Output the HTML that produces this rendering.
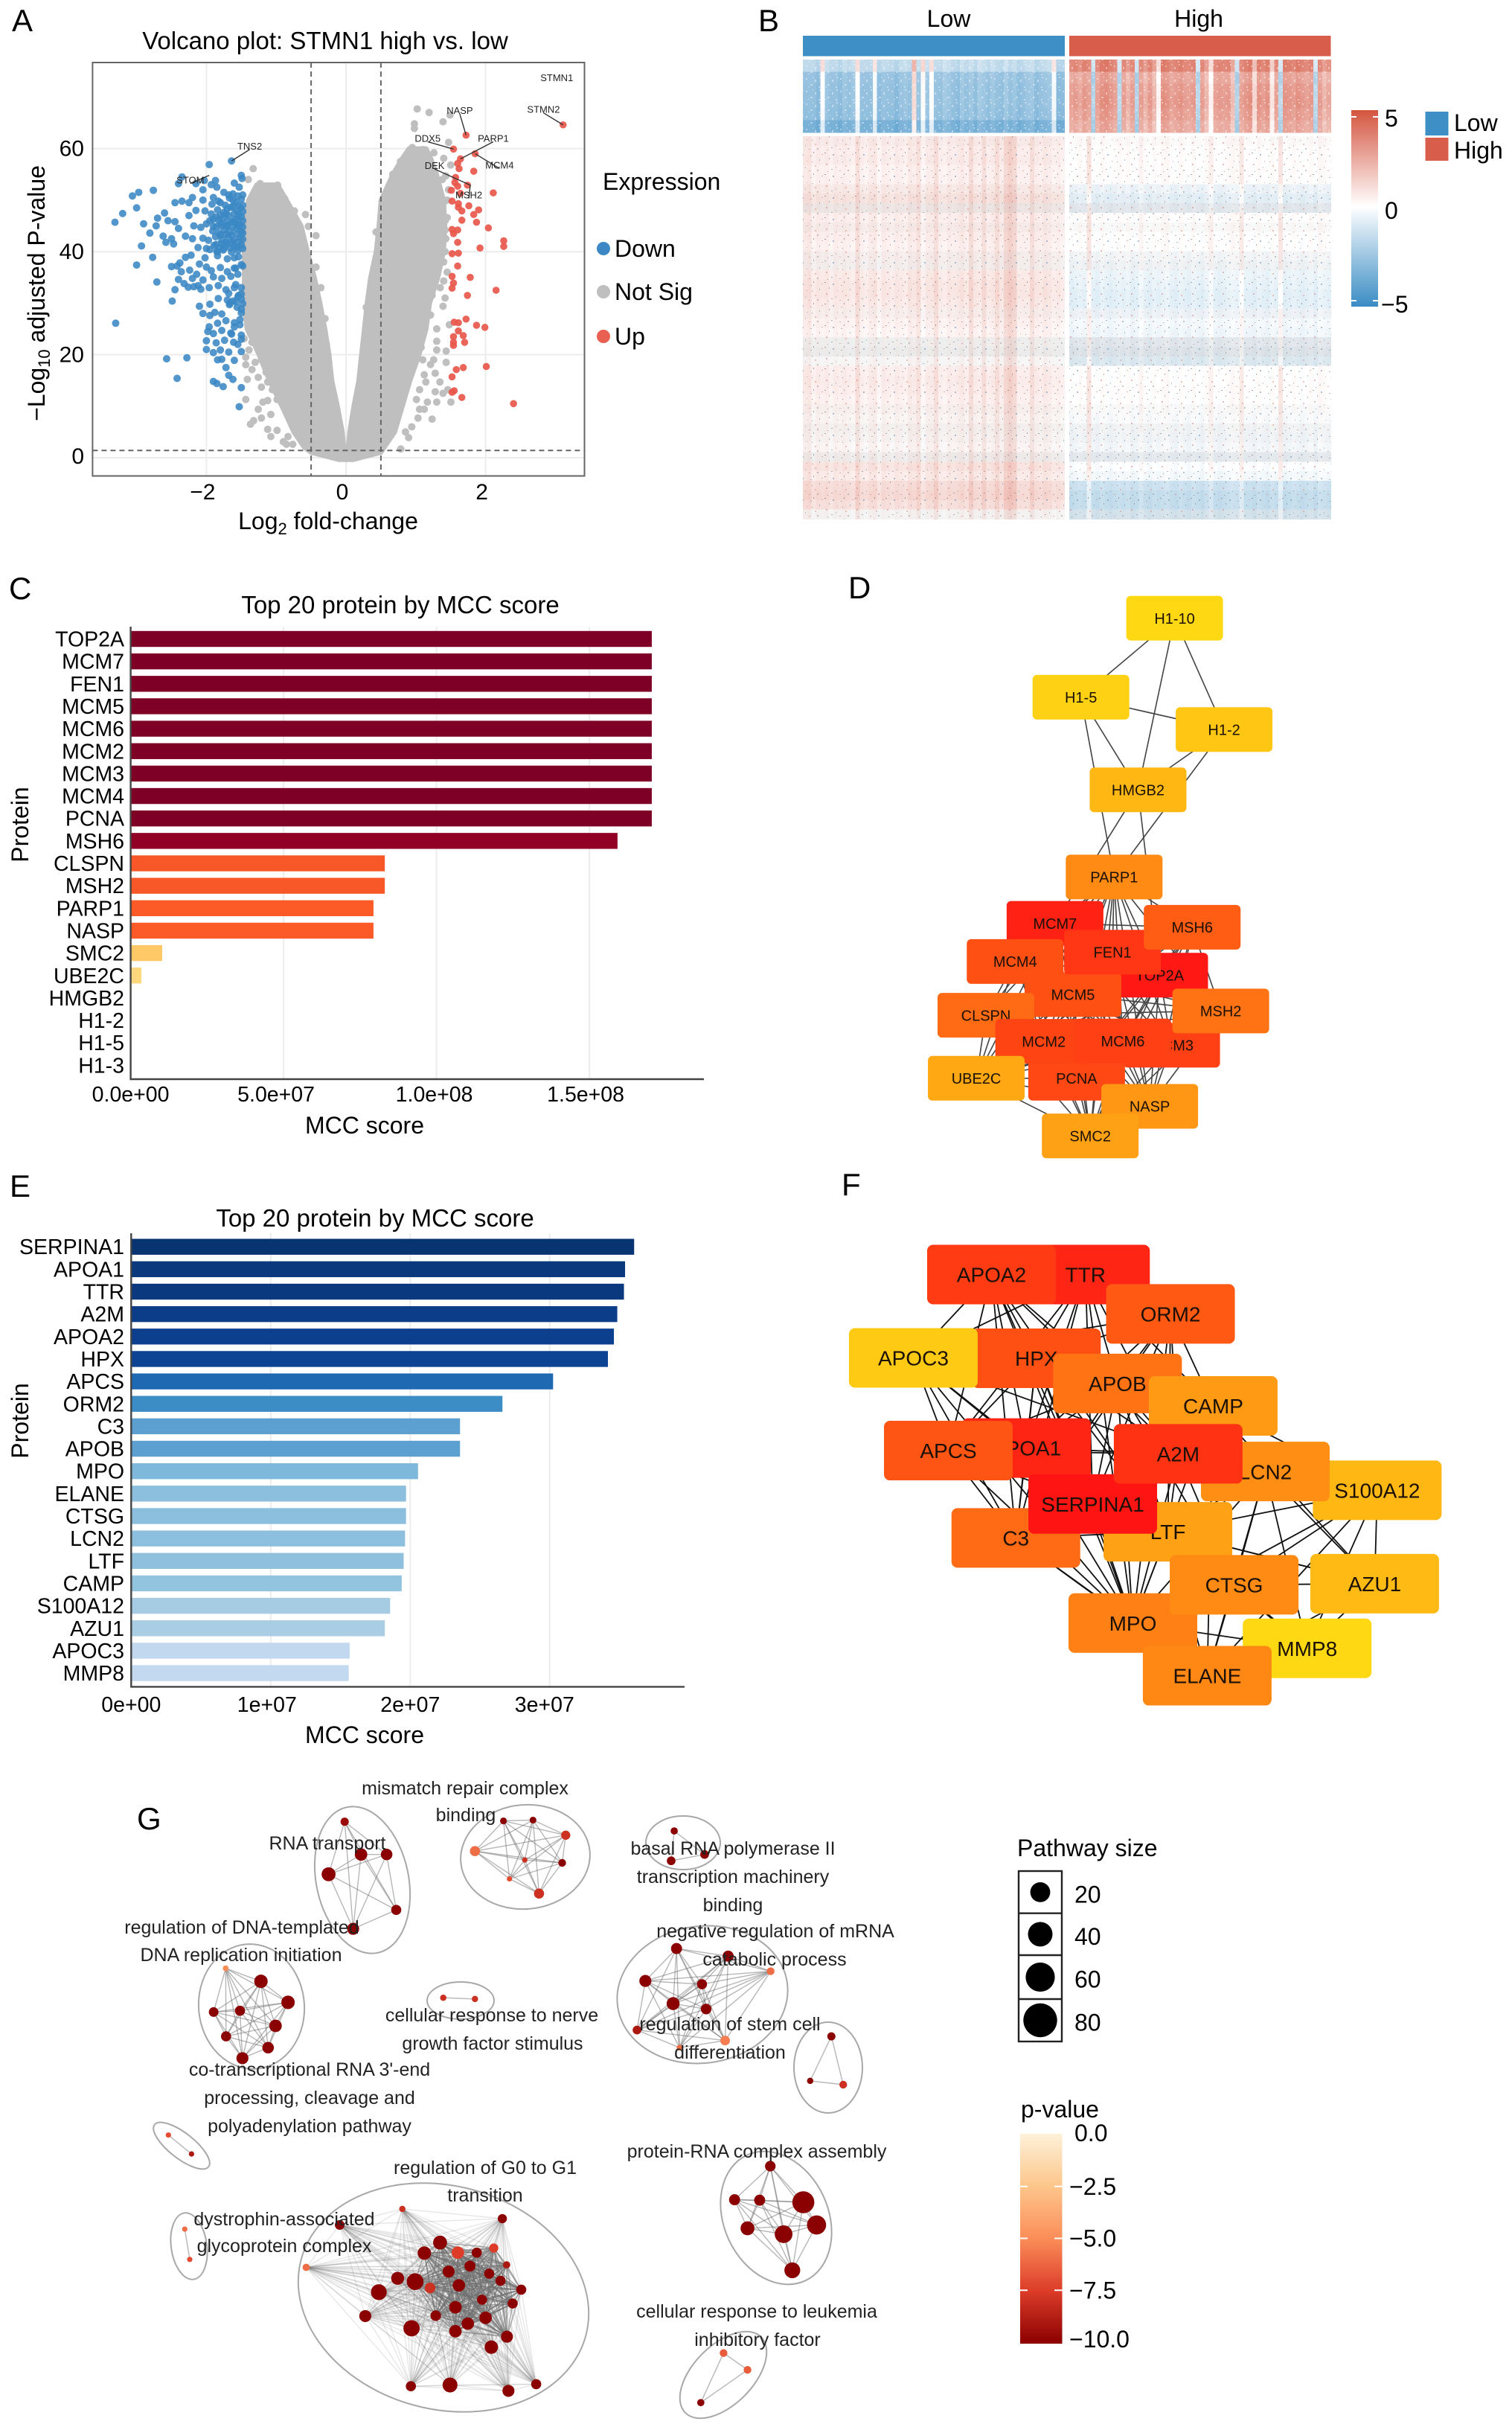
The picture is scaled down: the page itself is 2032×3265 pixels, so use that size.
<!DOCTYPE html>
<html lang="en">
<head>
<meta charset="utf-8">
<title>STMN1 high vs. low multi-panel figure</title>
<style>
html,body{margin:0;padding:0;background:#fff;width:2032px;height:3265px;overflow:hidden}
svg{display:block;font-family:"Liberation Sans",Arial,sans-serif;fill:#000}
.l{font-size:42px}
.t32{font-size:32px}
.t33{font-size:33px}
.t30{font-size:30px}
.g{font-size:25px;fill:#222;text-anchor:middle}
.m{text-anchor:middle}
.e{text-anchor:end}
</style>
</head>
<body>
<svg id="fig" xmlns="http://www.w3.org/2000/svg" width="2032" height="3265" viewBox="0 0 2032 3265">
<defs>
<linearGradient id="heat-grad" x1="0" y1="0" x2="0" y2="1">
<stop offset="0" stop-color="#d4553f"/><stop offset=".49" stop-color="#ffffff"/><stop offset="1" stop-color="#3a8cc4"/>
</linearGradient>
<linearGradient id="pval-grad" x1="0" y1="0" x2="0" y2="1">
<stop offset="0" stop-color="#fdf1d9"/><stop offset=".25" stop-color="#fdc68b"/><stop offset=".5" stop-color="#fb8d59"/><stop offset=".75" stop-color="#dc3c28"/><stop offset="1" stop-color="#8b0000"/>
</linearGradient>
<pattern id="speck" width="41" height="29" patternUnits="userSpaceOnUse">
<rect x="1" y="2" width="2" height="1" fill="#666"/><rect x="7" y="9" width="1" height="2" fill="#777"/><rect x="12" y="4" width="2" height="2" fill="#6a8fb5"/><rect x="18" y="13" width="1" height="1" fill="#c66"/>
<rect x="23" y="6" width="2" height="1" fill="#888"/><rect x="29" y="19" width="2" height="2" fill="#d98"/><rect x="35" y="11" width="1" height="2" fill="#6a8fb5"/><rect x="3" y="17" width="2" height="2" fill="#c88"/>
<rect x="10" y="24" width="2" height="1" fill="#777"/><rect x="16" y="21" width="1" height="2" fill="#8ab"/><rect x="21" y="26" width="2" height="1" fill="#c77"/><rect x="27" y="1" width="1" height="2" fill="#666"/>
<rect x="32" y="25" width="2" height="2" fill="#999"/><rect x="38" y="4" width="2" height="1" fill="#c88"/><rect x="5" y="27" width="1" height="1" fill="#555"/><rect x="25" y="14" width="1" height="1" fill="#555"/>
</pattern>
<pattern id="mottle" width="23" height="17" patternUnits="userSpaceOnUse">
<rect x="2" y="3" width="2" height="2" fill="#fff"/><rect x="8" y="11" width="3" height="2" fill="#fff"/><rect x="14" y="5" width="2" height="3" fill="#fff"/><rect x="19" y="14" width="2" height="2" fill="#fff"/><rect x="5" y="14" width="2" height="1" fill="#fff"/><rect x="20" y="1" width="2" height="2" fill="#fff"/><rect x="11" y="1" width="1" height="2" fill="#fff"/>
</pattern>
</defs>

<!-- Panel letters -->
<text class="l" x="16" y="42">A</text>
<text class="l" x="1019" y="42">B</text>
<text class="l" x="12" y="805">C</text>
<text class="l" x="1140" y="804">D</text>
<text class="l" x="13" y="1608">E</text>
<text class="l" x="1131" y="1606">F</text>
<text class="l" x="184" y="2458">G</text>

<!-- Panel A static -->
<g id="volcano">
<text class="m" style="font-size:33px" x="437" y="66">Volcano plot: STMN1 high vs. low</text>
<text class="t32 m" transform="translate(60,394) rotate(-90)">−Log<tspan font-size="22" dy="7">10</tspan><tspan dy="-7"> adjusted P-value</tspan></text>
<text class="t32 m" x="441" y="711">Log<tspan font-size="22" dy="7">2</tspan><tspan dy="-7"> fold-change</tspan></text>
<text class="t32" x="810" y="255">Expression</text>
<circle cx="811" cy="334" r="9" fill="#3d88c4"/>
<text class="t32" x="826" y="345">Down</text>
<circle cx="811" cy="392" r="9" fill="#bfbfbf"/>
<text class="t32" x="826" y="403">Not Sig</text>
<circle cx="811" cy="452" r="9" fill="#e95f52"/>
<text class="t32" x="826" y="463">Up</text>
</g>

<!-- Panel B static -->
<g id="heatmap">
<text class="t32 m" x="1275" y="36">Low</text>
<text class="t32 m" x="1611" y="36">High</text>
<rect x="1079" y="48" width="352" height="27.5" fill="#3d8fc6"/>
<rect x="1437" y="48" width="351.5" height="27.5" fill="#d85d4b"/>
<g id="heat-cells" shape-rendering="crispEdges"></g>
<rect x="1079" y="80" width="709.5" height="98" fill="url(#mottle)" opacity=".4"/>
<rect x="1079" y="183" width="709.5" height="514.5" fill="url(#speck)" opacity=".55"/>
<rect x="1431" y="80" width="6" height="618" fill="#fff"/>
<rect x="1816" y="148" width="36" height="264" fill="url(#heat-grad)"/>
<g stroke="#fff" stroke-width="2">
<line x1="1816" x2="1823" y1="157" y2="157"/><line x1="1845" x2="1852" y1="157" y2="157"/>
<line x1="1816" x2="1823" y1="404" y2="404"/><line x1="1845" x2="1852" y1="404" y2="404"/>
</g>
<text class="t32" x="1861" y="170">5</text>
<text class="t32" x="1861" y="294">0</text>
<text class="t32" x="1856" y="420">−5</text>
<rect x="1915.5" y="150" width="31" height="32" fill="#3d8fc6"/>
<rect x="1915.5" y="185" width="31" height="31" fill="#d85d4b"/>
<text class="t32" x="1954" y="176">Low</text>
<text class="t32" x="1954" y="213">High</text>
</g>

<!-- Panel C static -->
<g id="bar-c">
<text class="t33 m" x="538" y="824">Top 20 protein by MCC score</text>
<text class="t32 m" x="490" y="1523">MCC score</text>
<text class="t32 m" transform="translate(38,1108) rotate(-90)">Protein</text>
</g>
<g id="net-d"></g>

<!-- Panel E static -->
<g id="bar-e">
<text class="t33 m" x="504" y="1648">Top 20 protein by MCC score</text>
<text class="t32 m" x="490" y="2342">MCC score</text>
<text class="t32 m" transform="translate(38,1909) rotate(-90)">Protein</text>
</g>
<g id="net-f"></g>

<!-- Panel G -->
<g id="enrich"></g>
<g id="enrich-labels">
<text class="g" x="625" y="2411">mismatch repair complex</text>
<text class="g" x="626" y="2447">binding</text>
<text class="g" x="440" y="2485">RNA transport</text>
<text class="g" x="325" y="2598">regulation of DNA-templated</text>
<text class="g" x="324" y="2635">DNA replication initiation</text>
<text class="g" x="661" y="2716">cellular response to nerve</text>
<text class="g" x="662" y="2754">growth factor stimulus</text>
<text class="g" x="416" y="2789">co-transcriptional RNA 3'-end</text>
<text class="g" x="416" y="2827">processing, cleavage and</text>
<text class="g" x="416" y="2865">polyadenylation pathway</text>
<text class="g" x="652" y="2921">regulation of G0 to G1</text>
<text class="g" x="652" y="2958">transition</text>
<text class="g" x="382" y="2990">dystrophin-associated</text>
<text class="g" x="382" y="3026">glycoprotein complex</text>
<text class="g" x="985" y="2492">basal RNA polymerase II</text>
<text class="g" x="985" y="2530">transcription machinery</text>
<text class="g" x="985" y="2568">binding</text>
<text class="g" x="1042" y="2603">negative regulation of mRNA</text>
<text class="g" x="1041" y="2641">catabolic process</text>
<text class="g" x="981" y="2728">regulation of stem cell</text>
<text class="g" x="981" y="2766">differentiation</text>
<text class="g" x="1017" y="2899">protein-RNA complex assembly</text>
<text class="g" x="1017" y="3114">cellular response to leukemia</text>
<text class="g" x="1018" y="3152">inhibitory factor</text>
</g>

<!-- Panel G legends -->
<g id="size-legend">
<text class="t32" x="1367" y="2494">Pathway size</text>
</g>
<g id="pval-legend">
<text class="t32" x="1372" y="2845">p-value</text>
<rect x="1371" y="2867" width="56.5" height="282" fill="url(#pval-grad)"/>
</g>
</svg>

<script>
// ---------- Panel A data (log2 fold-change, -log10 adjusted p) ----------
const volXTicks = [-2, 0, 2];
const volYTicks = [0, 20, 40, 60];
const volThresholdX = [-0.5, 0.5];
const volThresholdY = [1.4];
const notSigLeftY = [-0.4, 1, 2, 5, 10, 15, 20, 25, 30, 35, 40, 45, 50, 53];
const notSigLeftOuter = [-0.1, -0.5, -0.6, -0.75, -0.92, -1.1, -1.25, -1.42, -1.46, -1.46, -1.46, -1.46, -1.4, -1.28];
const notSigLeftInner = [0, -0.01, -0.03, -0.05, -0.12, -0.2, -0.24, -0.3, -0.37, -0.45, -0.55, -0.64, -0.85, -0.98];
const notSigRightY = [-0.4, 1, 2, 5, 10, 15, 20, 25, 30, 35, 40, 45, 50, 55, 58, 60];
const notSigRightInner = [0, 0.01, 0.03, 0.05, 0.11, 0.18, 0.22, 0.26, 0.3, 0.35, 0.43, 0.47, 0.5, 0.67, 0.8, 0.9];
const notSigRightOuter = [0.1, 0.5, 0.55, 0.7, 0.81, 0.92, 1.05, 1.15, 1.2, 1.32, 1.4, 1.42, 1.4, 1.3, 1.22, 1.15];
const notSigExtra = [[1.02,67.7],[1.19,67],[1.39,65.2],[1.49,66.5],[0.98,64.8],[0.98,63.9],[1.47,61.2],[0.95,60.2],[1.1,59.8],[1.26,59.2],[1.4,58.1],[0.78,57.5],[0.67,55],[1.5,56.8],[1.43,54.7],[1.47,52],[1.4,49.6],[1.45,46.6],[1.42,44.2],[1.43,42.5],[1.36,40.4],[1.4,34.3],[0.43,43.8],[0.43,38.7],[0.33,30.9],[0.29,29.2],
[1.4,38],[1.45,36],[1.38,42],[1.42,46],[1.35,50],[1.45,50],[1.38,54],[1.42,40],[1.35,33],[1.42,31],
[1.233,31.5],[1.39,29.4],[1.211,27.7],[1.031,25.8],[1.3,25],[1.48,25.8],[0.942,24.8],[1.3,22.6],[1.076,21.4],[1.435,20.7],[1.3,20.9],[1.256,19],[1.435,18.5],[1.099,19],[1.211,18.1],[1.121,16.1],[1.278,16.4],[1.346,14.7],[1.054,13.2],[1.278,12.8],[1.39,12.5],[1.166,10.8],[1.3,10.8],[1.503,10.8],[1.458,13.2],[1.121,9.4],[1.233,7.5],[1.031,7.7],[0.942,6],[0.897,3.9],[0.785,1.7],[1.054,9.4],[1.144,14.7],[1.009,11.3],[0.852,5],
[-1.33,56.1],[-1.4,54],[-1.23,53.2],[-0.98,52.9],[-0.88,50.3],[-1.12,52.7],[-0.74,47.9],[-0.58,47.2],[-0.54,44.9],[-0.43,43.1],[-0.43,37],[-0.4,28.8],[-0.36,33],[-0.3,27],[-0.28,22],
[-1.436,18.05],[-1.436,19.5],[-1.39,20.9],[-1.347,22.4],[-1.459,23.1],[-1.414,15.2],[-1.347,17.1],[-1.257,15.6],[-1.212,13.7],[-1.122,14.7],[-1.055,13.2],[-1.302,18.5],[-1.212,19],[-1.145,16.6],[-1.436,11.3],[-1.257,9.4],[-1.212,7.7],[-1.369,6.5],[-1.324,7.2],[-1.077,8.4],[-1.122,5.5],[-0.988,5.3],[-1.077,4.1],[-0.853,2.6],[-0.763,2.6],[-0.898,3.1],[-0.988,11.3],[-1.122,11.1],[-1.19,10.8],[-0.831,4.1],[-0.696,5.1]];
const downX = [-3.31,-3.2,-3.06,-2.97,-2.76,-3,-2.9,-2.81,-2.93,-3,-2.77,-2.71,-3.3,-2.49,-2.57,-2.28,-2.42,-2.35,-2.4,-2.6,-2.55,-2.7,-2.72,-2.45,-2.4,-2.62,-2.5,-2.58,-2.47,-2.3,-2.2,-2.18,-2.25,-2.15,-2.35,-2.45,-2.25,-2.2,-2.05,-2.05,-2.15,-2.03,-1.93,-1.85,-1.96,-1.64,-1.5,-1.49,-1.87,-1.6,-1.53,-1.75,-1.68,-1.62,-1.9,-1.8,-1.5,-1.58,-1.67,-1.73,-1.83,-1.92,-1.51,-1.56,-1.65,-1.75,-1.84,-1.93,-2.02,-1.5,-1.59,-1.68,-1.77,-1.86,-1.95,-1.52,-1.6,-1.71,-1.79,-1.9,-2,-2.08,-1.5,-1.57,-1.66,-1.74,-1.82,-1.91,-1.52,-1.61,-1.69,-1.78,-1.87,-1.97,-2.05,-1.5,-1.6,-1.7,-1.8,-1.89,-2,-1.55,-1.64,-1.76,-1.85,-1.95,-2.12,-1.54,-1.7,-1.84,-2.02,-2.22,-2.3,-2.38,-2.42,-2.5,-2.36,-2.24,-2.14,-2.1,-2,-1.93,-1.8,-1.7,-1.58,-1.48,-1.55,-1.65,-1.78,-1.9,-2.05,-2.2,-2.32,-2.26,-2.12,-2.4,-2.45,-2.18,-2.08,-1.96,-1.83,-1.72,-1.6,-1.5,-1.55,-1.68,-1.62,-1.5,-1.58,-1.7,-1.83,-1.95,-2.1,-1.48,-1.56,-1.67,-1.78,-1.88,-1.95,-2.05,-1.5,-1.6,-1.72,-1.84,-1.96,-1.52,-1.65,-1.78,-1.9,-1.98,-1.5,-1.61,-1.74,-1.86,-2,-1.55,-1.68,-1.8,-1.9,-2,-1.5,-1.6,-1.72,-1.78,-1.84,-1.68,-1.62,-1.85,-1.9,-1.76,-1.5,-1.53];
const downY = [45.7,47.4,50.8,51.5,51.9,48.5,45.4,43.6,41.1,37.4,38.9,34.1,26.1,30.4,19.2,19.4,15.4,54.5,53.2,47.5,46,46.5,45,45.8,44.5,43,42.5,41.8,41.5,43,42.5,45,47,48,49.8,49.5,49.5,50.5,50,52,53.2,53.8,53,52.5,56.9,57.6,54.8,54.2,53.8,53.3,52.5,51.5,51,50,50.5,49.5,50.2,49.6,50.4,49,49.8,49.2,48.4,47.9,48.6,47.6,48.1,47.3,47.9,46.8,46.3,47,46.4,46.7,46,45.2,45.7,45.1,45.5,44.9,45.4,44.7,43.9,44.4,43.8,44.2,43.6,44,42.7,42.2,42.8,42.3,42.9,42.2,42.6,41.3,41,41.5,40.8,41.2,40.6,40.2,39.9,40.3,40,40.4,40.8,39,38.6,39.2,38.8,39.3,38.9,37.8,37.2,37.1,36.1,36.4,35.6,37.6,37,36.3,36.9,36.1,36.8,37.2,35.6,35.2,34.8,35.1,34.5,34.8,33.8,33.1,33.4,34.6,32.6,33.2,32.7,33,33.4,32.6,33,31.8,31.2,31.9,30.4,30.8,30.3,30.6,30.9,29.8,29.4,29.9,29.2,29.7,27.9,28.2,27.6,28,28.1,26.2,26.6,26.1,25.4,25.8,24.2,24.7,24.1,24.5,23.8,22.4,22.8,22.3,22.7,22,20.5,20.9,20.4,21,20.6,18.9,17.5,19.1,19,16,15.2,14.4,14.8,13.8,13.6,9.9];
const downDense = [[-1.48,51],[-1.55,50.8],[-1.62,51.2],[-1.48,49],[-1.54,48.9],[-1.62,48.8],[-1.7,48.3],[-1.48,47.8],[-1.53,47.2],[-1.6,47.4],[-1.72,47.3],[-1.8,47],[-1.48,46],[-1.55,46.2],[-1.63,45.8],[-1.7,45.9],[-1.82,46],[-1.9,46.3],[-1.48,44.8],[-1.54,45],[-1.62,44.8],[-1.7,44.9],[-1.79,45],[-1.86,44.8],[-1.48,43.6],[-1.56,43.4],[-1.64,43.2],[-1.72,43.4],[-1.8,43.2],[-1.48,42.4],[-1.54,41.9],[-1.63,41.8],[-1.72,41.8],[-1.78,41.5],[-1.86,41.4],[-1.48,40.6],[-1.56,40.9],[-1.66,40.7],[-1.75,40.6],[-1.84,40],[-1.6,38.8],[-1.5,37.5],[-1.6,36.8],[-1.5,33],[-1.58,33.6],[-1.54,31.5],[-1.66,30],[-1.5,28.8],[-1.52,26.8],[-1.6,25.4],[-1.64,24],[-1.5,23]];
const upX = [3.11,1.72,1.54,1.85,1.64,1.6,1.62,1.83,1.57,1.56,1.74,1.6,1.51,2.11,1.64,1.52,1.61,1.76,1.61,1.9,1.66,1.83,1.66,1.87,2.04,1.52,1.6,1.54,2.26,1.6,2.26,1.92,1.52,1.61,1.6,1.52,1.78,1.54,1.52,2.15,1.74,1.72,1.55,1.61,1.87,1.99,1.61,1.54,1.68,1.54,1.7,1.54,2.01,1.68,1.58,1.52,1.55,1.52,1.66,2.4];
const upY = [64.6,62.6,59.9,59,58,57.1,56.1,55.6,54.4,53.4,52.9,52.7,51.9,51.4,51.3,49.8,49.3,48.9,48.6,48.1,47.9,47.2,46.1,45.7,44.6,44.3,44.2,43.5,42.1,41.8,41,40.7,39.6,39.7,37.2,35.2,35,33.9,32.9,32.5,31.5,26.9,26.3,26.2,25.7,25.3,24.6,23.5,23.7,22.4,22.4,21.8,17.7,17.5,17.1,15.7,13,12.7,11.7,10.5];
const geneNames = ["STMN1","STMN2","NASP","PARP1","DDX5","MCM4","DEK","MSH2","TNS2","STOM"];
const geneLabelX = [3.02,2.83,1.63,2.11,1.17,2.2,1.27,1.76,-1.38,-2.23];
const geneLabelY = [73.7,67.5,67.3,61.9,61.9,56.7,56.6,50.9,60.4,53.8];
const genePointX = [null,3.11,1.72,1.64,1.54,1.85,1.78,1.78,-1.64,-1.96];
const genePointY = [null,64.6,62.6,58,59.9,59,52.9,52.9,57.6,54.8];

// ---------- Panel B data (z-score) ----------
const heatTopLow = [-1.6,-2.6,-2.7,-2.7,-2.8,-3.4];
const heatTopHigh = [3.4,2.4,2.7,2.8,2.6,2.3];
const heatLowerLow = [0.55,0.5,0.55,0.4,0.4,0.6,0.8,0.4,0.5,0.5,0.5,0.4,0.35,0.25,0.6,0.7,0.7,0.6,0.4,0.4,0.3,0.05,0.05,0.05,0.5,0.55,0.5,0.4,0.35,0.25,0.2,0.2,0.2,0.2,0.8,0.6,1,1.1,0.9,0.1];
const heatLowerHigh = [0.1,0.05,0.05,0.05,0.05,-0.45,-0.7,-0.5,0.05,0.05,0,0,-0.15,-0.2,-0.5,-0.6,-0.7,-0.7,-0.4,-0.3,-0.4,-0.5,-0.6,-0.8,0,0,0.05,0,0,-0.1,-0.15,-0.25,-0.25,-0.4,-0.1,-0.3,-1.3,-1.5,-1.5,-1];
const heatLowerGrey = [0.1,0,0,0,0,0.1,0.1,0.6,0,0.2,0,0,0.3,0.4,0,0,0,0,0.2,0,0,0.6,0.7,0.3,0,0,0,0,0.2,0.15,0.4,0.3,0.15,0.6,0,0,0,0,0,0.4];
const heatTopLowCols = [0,0,0,-0.3,2.6,0.2,0,0,-0.2,0.2,0,0.2,2.6,0,0,0,2.4,-0.2,0.1,0,0,-0.3,0.1,0.2,0,3.8,0.2,2.8,0.3,2.6,0.1,0,0.4,0.2,0,-0.2,0.3,0,0.3,-0.1,0.4,0.2,0,0.3,0,-0.1,0.4,0,0.2,-0.2,0,0.2,0.3,-0.2,0,0.1,0.2,2.4,-0.3,-0.2];
const heatTopHighCols = [0,0.2,-0.2,0.3,0,-4.6,0,0.5,0.6,0.3,0,-4.4,0.1,-0.5,0.1,-4.6,0.1,-0.5,0.2,-0.6,-2.4,0.5,0.4,0,0.2,0.4,0.1,0,0.2,-4.4,0.1,-0.6,-2.4,0,0.2,0.1,0.2,-0.8,-4.6,0,0.3,0.5,-1.5,0.4,0.1,0.4,-2,0,-4.4,0.4,0.3,0.1,0.5,0.2,0,0.2,-4.4,0.1,-0.6,-0.2];
const heatLowerLowCols = [0.2,0.3,-0.1,0.1,0,0.1,-0.1,0.1,0,0.1,0,-0.1,0.5,0,-0.1,0.1,0.2,-0.2,0.1,0,-0.1,0.1,0,-0.1,0.2,0.1,0.4,-0.2,0.1,0.1,0.5,0,-0.1,0.1,0,0.1,0.2,0,0.6,0.1,0,0.5,0,0.1,0.5,0.1,0.7,0.9,0.7,0,0,0,0.5,0.1,0,0.2,0.1,-0.1,0,-0.1];
const heatLowerHighCols = [-0.1,0,0.1,0,0.8,0,-0.1,0.1,0,-0.1,0,0.1,0,0.1,-0.1,0,0.3,0,-0.1,0.1,0,0.1,0.2,0,-0.1,0.1,0,-0.1,0.1,0,-0.1,0.1,0.4,0,-0.1,0,0.1,0.2,0.1,0.6,0,0,-0.1,0.1,0,-0.1,0.1,0,0.7,-0.1,0,0.1,0,-0.1,0,0.1,-0.1,0.2,0.1,0];

// ---------- Panel C data ----------
const cProteins = ["TOP2A","MCM7","FEN1","MCM5","MCM6","MCM2","MCM3","MCM4","PCNA","MSH6","CLSPN","MSH2","PARP1","NASP","SMC2","UBE2C","HMGB2","H1-2","H1-5","H1-3"];
const cScores = [1.704e8,1.704e8,1.704e8,1.704e8,1.704e8,1.704e8,1.704e8,1.704e8,1.704e8,1.592e8,8.31e7,8.31e7,7.94e7,7.94e7,1.03e7,3.5e6,0,0,0,0];
const cTickValues = [0,5e7,1e8,1.5e8];
const cTickLabels = ["0.0e+00","5.0e+07","1.0e+08","1.5e+08"];

// ---------- Panel E data ----------
const eProteins = ["SERPINA1","APOA1","TTR","A2M","APOA2","HPX","APCS","ORM2","C3","APOB","MPO","ELANE","CTSG","LCN2","LTF","CAMP","S100A12","AZU1","APOC3","MMP8"];
const eScores = [3.605e7,3.54e7,3.532e7,3.484e7,3.46e7,3.417e7,3.024e7,2.661e7,2.357e7,2.357e7,2.056e7,1.97e7,1.97e7,1.963e7,1.953e7,1.939e7,1.856e7,1.818e7,1.566e7,1.559e7];
const eTickValues = [0,1e7,2e7,3e7];
const eTickLabels = ["0e+00","1e+07","2e+07","3e+07"];

// ---------- Panel D network (layout units) ----------
const dNames = ["H1-10","H1-5","H1-2","HMGB2","PARP1","TOP2A","MCM5","MCM3","CLSPN","MCM7","MCM4","FEN1","MSH6","MSH2","PCNA","MCM2","MCM6","UBE2C","NASP","SMC2"];
const dLayoutX = [1072,790,1221,962,890,1027,766,1063,504,712,592,885,1125,1211,777,678,916,475,997,818];
const dLayoutY = [135,338,421,576,800,1052,1102,1232,1155,919,1017,993,929,1144,1317,1222,1221,1317,1389,1465];
const dRank = [0.02,0.06,0.12,0.2,0.44,0.98,0.72,0.8,0.6,0.94,0.72,0.84,0.66,0.56,0.76,0.78,0.8,0.28,0.38,0.32];
const dEdgeFrom = ["H1-10","H1-10","H1-10","H1-5","H1-5","H1-5","H1-2","H1-2","HMGB2","HMGB2"];
const dEdgeTo = ["H1-5","H1-2","HMGB2","H1-2","HMGB2","PARP1","HMGB2","PARP1","TOP2A","MCM7"];
const dCore = ["PARP1","TOP2A","MCM5","MCM3","CLSPN","MCM7","MCM4","FEN1","MSH6","MSH2","PCNA","MCM2","MCM6","UBE2C","NASP","SMC2"];

// ---------- Panel F network (layout units) ----------
const fNames = ["TTR","APOA2","ORM2","HPX","APOC3","APOB","CAMP","S100A12","LCN2","APOA1","APCS","C3","LTF","SERPINA1","A2M","AZU1","MPO","CTSG","MMP8","ELANE"];
const fLayoutX = [625,405,824,510,222,700,924,1308,1046,487,304,462,818,642,842,1302,736,973,1144,910];
const fLayoutY = [294,294,403,526,525,596,658,892,840,775,782,1024,1007,930,791,1151,1260,1154,1330,1406];
const fRank = [0.92,0.82,0.68,0.72,0.1,0.56,0.36,0.2,0.42,0.92,0.7,0.6,0.32,1,0.86,0.18,0.5,0.44,0.02,0.46];
const fEdgeFrom = ["APOA2","APOA2","APOA2","APOA2","APOA2","APOA2","APOA2","APOA2","TTR","TTR","TTR","TTR","TTR","TTR","TTR","ORM2","ORM2","ORM2","ORM2","ORM2","ORM2","APOC3","APOC3","APOC3","APOC3","APOC3","APOC3","HPX","HPX","HPX","HPX","HPX","APOB","APOB","APOB","APOB","APOB","CAMP","CAMP","CAMP","APCS","APCS","APCS","APOA1","APOA1","APOA1","APOA1","A2M","A2M","A2M","A2M","SERPINA1","SERPINA1","SERPINA1","SERPINA1","C3","C3","C3","LTF","LTF","LTF","LCN2","LCN2","LCN2","LCN2","LCN2","S100A12","S100A12","S100A12","S100A12","CTSG","CTSG","CTSG","CTSG","AZU1","AZU1","MPO","MPO","MPO","ELANE","APOB","APOA2","HPX","TTR","TTR","TTR","TTR","APOA2","APOA2","HPX","HPX","APOC3","APOB","APOB","ORM2","ORM2","ORM2","ORM2","APCS","APCS","APOA1","CAMP","CAMP","CAMP","CAMP","LCN2","LCN2","S100A12","S100A12","AZU1","A2M","LTF","LTF"];
const fEdgeTo = ["APOC3","HPX","APOB","APOA1","APCS","SERPINA1","A2M","C3","HPX","APOB","APOC3","APOA1","SERPINA1","A2M","C3","APOB","CAMP","A2M","APOA1","SERPINA1","LTF","APCS","APOA1","C3","SERPINA1","APOB","A2M","APOA1","APCS","C3","SERPINA1","A2M","APOA1","A2M","SERPINA1","C3","MPO","A2M","S100A12","LCN2","C3","SERPINA1","MPO","C3","A2M","SERPINA1","LTF","SERPINA1","LTF","MPO","LCN2","C3","LTF","MPO","CTSG","MPO","ELANE","LTF","CTSG","AZU1","MPO","S100A12","CTSG","AZU1","MMP8","ELANE","CTSG","AZU1","MMP8","ELANE","AZU1","MPO","MMP8","ELANE","MMP8","ELANE","ELANE","MMP8","LTF","MMP8","CTSG","LTF","LTF","MPO","APCS","CAMP","ORM2","MPO","ORM2","MPO","APOB","MPO","LTF","APCS","HPX","C3","MPO","APOC3","LTF","A2M","MPO","LTF","ELANE","CTSG","AZU1","LTF","MPO","LTF","MPO","LTF","CTSG","ELANE","MMP8"];

// ---------- Panel G enrichment map ----------
const gSizeTicks = [20,40,60,80];
const pTicks = [0,-2.5,-5,-7.5,-10];
const pTickLabels = ["0.0","−2.5","−5.0","−7.5","−10.0"];
const gHullNames = ["rna-transport","mismatch-repair","basal-rna","dna-replication","nerve-growth","cotranscriptional","dystrophin","g0-g1","mrna-catabolic","stem-cell","protein-rna","leukemia"];
const gHullCx = [487,706,918,338,619,244,254,596,944,1113,1043,972];
const gHullCy = [2526,2495,2476,2696,2688,2883,3018,3087,2680,2778,2980,3191];
const gHullRx = [62,87,50,71,45,46,24,198,115,46,70,40];
const gHullRy = [100,70,36,84,25,17,45,150,92,61,93,72];
const gHullTilt = [-12,-5,0,-5,0,38,-8,15,-8,0,-25,45];
const gFrameRight = [0,0,1,0,0,0,0,0,1,1,1,1];
const gNodeU = [[759,805,877,714,904,783],[1205,1288,1380,1125,1370,1265,1222,1305],[208,200,288],[425,524,600,391,465,565,426,544,472],[1036,1125],[264,329],[310,324],[921,1202,745,1027,983,1077,1130,1178,1214,1111,1051,1165,1197,651,908,957,999,1080,1255,855,1145,1070,1231,817,1015,1155,1105,947,1070,1215,1171,945,1055,1219,1297],[214,350,462,132,281,205,292,110,342,222],[622,566,653],[461,367,433,548,401,496,583,519],[338,401,278]];
const gNodeV = [[120,198,198,245,330,375],[118,116,152,190,218,211,256,291],[142,213,198],[469,500,550,573,570,606,631,658,683],[539,542],[866,911],[1090,1162],[1042,1065,1080,1122,1147,1146,1146,1135,1175,1178,1191,1196,1213,1181,1207,1215,1230,1224,1234,1240,1258,1276,1267,1297,1296,1301,1315,1326,1333,1346,1371,1464,1461,1475,1459],[422,440,476,499,507,553,566,616,641,658],[631,737,746],[940,1020,1021,1026,1088,1102,1080,1188],[1385,1425,1503]];
const gNodeSize = [[22,40,36,46,30,38],[16,16,26,30,20,10,10,30],[18,24,24],[12,44,44,28,30,40,30,36,38],[14,14],[10,10],[10,10],[14,26,28,46,44,40,30,26,18,34,38,30,30,18,42,58,32,40,30,54,30,40,30,38,32,40,40,56,40,38,44,30,50,38,30],[34,34,20,38,30,42,32,24,28,12],[22,14,20],[32,34,34,80,46,62,68,54],[20,20,18]];
const gNodeP = [[-9.5,-10,-10,-10,-10,-10],[-10,-10,-8,-6,-10,-8,-7,-8],[-10,-10,-10],[-5,-10,-10,-10,-10,-10,-10,-10,-10],[-8,-8],[-7,-9],[-6,-7],[-8,-10,-10,-10,-10,-7.5,-10,-7.5,-9,-10,-10,-10,-10,-6,-10,-10,-8,-10,-10,-10,-10,-10,-10,-10,-10,-10,-10,-10,-10,-10,-10,-10,-10,-10,-10],[-10,-10,-6,-10,-10,-10,-10,-9,-5.5,-6],[-10,-10,-8],[-10,-10,-10,-10,-10,-10,-10,-10],[-6.5,-6.5,-10]];

// ---------- helpers ----------
const NS = "http://www.w3.org/2000/svg";
function mk(tag, attrs, parent){
  const n = document.createElementNS(NS, tag);
  for (const k in attrs) n.setAttribute(k, attrs[k]);
  parent.appendChild(n);
  return n;
}
function hex(c){return [parseInt(c.slice(1,3),16),parseInt(c.slice(3,5),16),parseInt(c.slice(5,7),16)];}
function ramp(v, dom, cols){
  if (v <= dom[0]) return cols[0];
  for (let i=1;i<dom.length;i++){
    if (v <= dom[i]){
      const t=(v-dom[i-1])/(dom[i]-dom[i-1]), a=hex(cols[i-1]), b=hex(cols[i]);
      return "rgb("+a.map((x,j)=>Math.round(x+(b[j]-x)*t)).join(",")+")";
    }
  }
  return cols[cols.length-1];
}

// ---------- Panel A draw ----------
(function(){
  const g = document.getElementById("volcano");
  const volX = v => 465 + 93.8*v;
  const volY = v => 615 - 6.923*v;
  const L=124.4,R=785.5,T=84,B=639.5;
  volXTicks.forEach(t=>{
    const a = mk("line",{x1:volX(t),x2:volX(t),y1:T,y2:B,stroke:"#ececec","stroke-width":2},g);
    
    
    const lab = mk("text",{x:volX(t)-5,y:671,"text-anchor":"middle","font-size":30},g);
    
    
    lab.textContent = String(t).replace("-","−");
  });
  volYTicks.forEach(t=>{
    const a = mk("line",{x1:L,x2:R,y1:volY(t),y2:volY(t),stroke:"#ececec","stroke-width":2},g);
    
    
    const lab = mk("text",{x:113,y:volY(t)+(t===0?8:10),"text-anchor":"end","font-size":30},g);
    
    
    lab.textContent = t;
  });
  const fringe = "#bfbfbf";
  function band(ys,a,b,name){
    const pts=[];
    ys.forEach((y,i)=>pts.push(volX(a[i]).toFixed(1)+","+volY(y).toFixed(1)));
    for(let i=ys.length-1;i>=0;i--)pts.push(volX(b[i]).toFixed(1)+","+volY(ys[i]).toFixed(1));
    const p = mk("polygon",{points:pts.join(" "),fill:fringe,stroke:fringe,"stroke-width":6,"stroke-linejoin":"round"},g);
    
    
  }
  band(notSigLeftY,notSigLeftOuter,notSigLeftInner,"not-sig-cloud-left");
  band(notSigRightY,notSigRightInner,notSigRightOuter,"not-sig-cloud-right");
  notSigExtra.forEach(p=>{
    const c = mk("circle",{cx:volX(p[0]),cy:volY(p[1]),r:5,fill:fringe},g);
    
    
  });
  downY.forEach((y,i)=>{
    const c = mk("circle",{cx:volX(downX[i]),cy:volY(y),r:5,fill:"#3a87c4","fill-opacity":.88},g);
    
    
  });
  downDense.forEach(p=>{
    const c = mk("circle",{cx:volX(p[0]),cy:volY(p[1]),r:5,fill:"#3a87c4","fill-opacity":.88},g);
    
    
  });
  upX.forEach((x,i)=>{
    const c = mk("circle",{cx:volX(x),cy:volY(upY[i]),r:4.8,fill:"#e8574b","fill-opacity":.92},g);
    
    
  });
  volThresholdX.forEach(t=>{
    const a = mk("line",{x1:volX(t),x2:volX(t),y1:T,y2:B,stroke:"#666","stroke-width":2,"stroke-dasharray":"7 5"},g);
    
    
  });
  volThresholdY.forEach(t=>{
    const a = mk("line",{x1:L,x2:R,y1:volY(t),y2:volY(t),stroke:"#666","stroke-width":2,"stroke-dasharray":"7 5"},g);
    
    
  });
  geneNames.forEach((n,i)=>{
    if(genePointX[i]!==null){
      const a = mk("line",{x1:volX(geneLabelX[i]),y1:volY(geneLabelY[i])+4,x2:volX(genePointX[i]),y2:volY(genePointY[i]),stroke:"#333","stroke-width":1.4},g);
      
      
    }
    const t = mk("text",{x:volX(geneLabelX[i]),y:volY(geneLabelY[i])+4,"text-anchor":"middle","font-size":13,fill:"#222"},g);
    
    
    t.textContent=n;
  });
  const frame = mk("rect",{x:L,y:T,width:R-L,height:B-T,fill:"none",stroke:"#666","stroke-width":2},g);
  
  
})();

// ---------- Panel B draw ----------
(function(){
  const g = document.getElementById("heat-cells");
  const color = (v,grey) => {
    const c = hex("#ffffff"), hi = v>=0?hex("#d4553f"):hex("#3a8cc4"), t = Math.min(1,Math.abs(v)/5);
    let rgb = c.map((x,j)=>x+(hi[j]-x)*t);
    rgb = rgb.map(x=>x+(170-x)*grey*0.3);
    return "rgb("+rgb.map(Math.round).join(",")+")";
  };
  const cols = heatTopLowCols.length;
  const wL = 352/cols, wH = 351.5/cols;
  function block(y0,h,low,high,lowCols,highCols,grey){
    const rh = h/low.length;
    low.forEach((v,r)=>{
      for(let c=0;c<cols;c++){
        const a = mk("rect",{x:(1079+c*wL).toFixed(2),y:(y0+r*rh).toFixed(2),width:(wL+.5).toFixed(2),height:(rh+.5).toFixed(2),fill:color(v+lowCols[c],grey?grey[r]:0)},g);
        
        
        const b = mk("rect",{x:(1437+c*wH).toFixed(2),y:(y0+r*rh).toFixed(2),width:(wH+.5).toFixed(2),height:(rh+.5).toFixed(2),fill:color(high[r]+highCols[c],grey?grey[r]:0)},g);
        
        
      }
    });
  }
  block(80,98,heatTopLow,heatTopHigh,heatTopLowCols,heatTopHighCols,null);
  block(183,514.5,heatLowerLow,heatLowerHigh,heatLowerLowCols,heatLowerHighCols,heatLowerGrey);
})();

// ---------- Panels C / E draw ----------
function barChart(id,proteins,scores,tv,tl,opt){
  const g = document.getElementById(id);
  const x = v => opt.x0 + v*opt.k;
  tv.forEach((t,i)=>{
    if(i>0){
      const a = mk("line",{x1:x(t),x2:x(t),y1:opt.top,y2:opt.base,stroke:"#ececec","stroke-width":2},g);
      
      
    }
    const lab = mk("text",{x:x(t)+opt.nudge[i],y:opt.tickY,"text-anchor":"middle","font-size":28.5},g);
    
    
    lab.textContent=tl[i];
  });
  proteins.forEach((p,i)=>{
    const cy = opt.y0 + i*30.15;
    if(scores[i]>0){
      const r = mk("rect",{x:opt.x0,y:cy-10.7,width:scores[i]*opt.k,height:21.4,fill:ramp(scores[i],opt.dom,opt.cols)},g);
      
      
    }
    const t = mk("text",{x:167,y:cy+10,"text-anchor":"end","font-size":28.5},g);
    
    
    t.textContent=p;
  });
  const ax = mk("path",{d:"M"+opt.x0+" "+opt.top+"V"+opt.base+"H"+opt.right,fill:"none",stroke:"#444","stroke-width":2.4},g);
  
  
}
barChart("bar-c",cProteins,cScores,cTickValues,cTickLabels,{x0:175.6,k:4.11e-6,y0:858.5,top:842,base:1450,right:946,tickY:1480,nudge:[0,-10,-3,-5],
  dom:[0,1e7,8e7,1.6e8,1.7e8],cols:["#ffe08a","#fec966","#fc5a27","#900026","#7f0027"]});
barChart("bar-e",eProteins,eScores,eTickValues,eTickLabels,{x0:176.3,k:1.875e-5,y0:1675.2,top:1657,base:2266.4,right:920,tickY:2300,nudge:[0,-5,0,-7],
  dom:[1.55e7,1.85e7,2e7,2.36e7,2.66e7,3.02e7,3.45e7,3.6e7],cols:["#c4d9ef","#a6cde3","#85bcdc","#5ba0d0","#3c8cc5","#1f68b2","#0c4090","#083472"]});

// ---------- Panels D / F draw ----------
function network(id,names,lx,ly,rank,from,to,opt){
  const g = document.getElementById(id);
  const px = u => opt.ox + u/opt.sx;
  const py = v => opt.oy + v/opt.sy;
  const idx = n => names.indexOf(n);
  const line = (a,b)=>{
    const l = mk("line",{x1:px(lx[idx(a)]),y1:py(ly[idx(a)]),x2:px(lx[idx(b)]),y2:py(ly[idx(b)]),stroke:opt.edge,"stroke-width":opt.ew},g);
    
    
  };
  from.forEach((a,i)=>line(a,to[i]));
  if(opt.core){opt.core.forEach((a,i)=>opt.core.slice(i+1).forEach(b=>line(a,b)));}
  names.forEach((n,i)=>{
    const c = px(lx[i]), m = py(ly[i]);
    const r = mk("rect",{x:c-opt.w/2,y:m-opt.h/2,width:opt.w,height:opt.h,rx:opt.r,fill:ramp(rank[i],[0,0.5,1],["#ffdc14","#ff8014","#ff1414"])},g);
    
    
    const t = mk("text",{x:c,y:m+opt.fs*.36,"text-anchor":"middle","font-size":opt.fs,fill:"#1a1008"},g);
    
    
    t.textContent=n;
  });
}
network("net-d",dNames,dLayoutX,dLayoutY,dRank,dEdgeFrom,dEdgeTo,{ox:1100,oy:760,sx:2.24,sy:1.912,w:130,h:60,r:6,fs:20,edge:"#444",ew:1.6,core:dCore});
network("net-f",fNames,fLayoutX,fLayoutY,fRank,fEdgeFrom,fEdgeTo,{ox:1100,oy:1570,sx:1.742,sy:2.063,w:173,h:80,r:8,fs:28,edge:"#111",ew:1.8});

// ---------- Panel G draw ----------
(function(){
  const g = document.getElementById("enrich");
  const pColor = p => ramp(p,[-10,-7.5,-5,-2.5,0],["#8b0000","#dc3c28","#fb8d59","#fdc68b","#fdf1d9"]);
  const gr = s => 2 + 0.16*s;
  gHullNames.forEach((name,h)=>{
    const px = u => gFrameRight[h] ? 800+u/1.96 : 100+u/2.09;
    const py = v => 2380+v/1.772;
    const e = mk("ellipse",{cx:gHullCx[h],cy:gHullCy[h],rx:gHullRx[h],ry:gHullRy[h],fill:"none",stroke:"#a8a8a8","stroke-width":2,transform:"rotate("+gHullTilt[h]+" "+gHullCx[h]+" "+gHullCy[h]+")"},g);
    
    
    const U=gNodeU[h],V=gNodeV[h];
    const dense = U.length>20;
    const central = k => U[k]>=950 && U[k]<=1260 && V[k]>=1120 && V[k]<=1350;
    for(let i=0;i<U.length;i++)for(let j=i+1;j<U.length;j++){
      const op = dense ? (central(i)&&central(j)?0.6:0.17) : 0.5;
      const l = mk("line",{x1:px(U[i]).toFixed(1),y1:py(V[i]).toFixed(1),x2:px(U[j]).toFixed(1),y2:py(V[j]).toFixed(1),stroke:"#6f6f6f","stroke-width":1.4,"stroke-opacity":op},g);
      
      
    }
    U.forEach((u,i)=>{
      const c = mk("circle",{cx:px(u).toFixed(1),cy:py(V[i]).toFixed(1),r:gr(gNodeSize[h][i]),fill:pColor(gNodeP[h][i])},g);
      
      
    });
  });

  const sl = document.getElementById("size-legend");
  const legendR = s => 10.3 + 0.155*s;
  const sy = [2514,2570.7,2627,2686,2743];
  const box = mk("rect",{x:1369,y:2514,width:58,height:229,fill:"#fff",stroke:"#222","stroke-width":2.4},sl);
  
  
  gSizeTicks.forEach((s,i)=>{
    if(i>0){
      const d = mk("line",{x1:1369,x2:1427,y1:sy[i],y2:sy[i],stroke:"#222","stroke-width":2.4},sl);
      
      
    }
    const cy = (sy[i]+sy[i+1])/2;
    const c = mk("circle",{cx:1398,cy:cy,r:legendR(s),fill:"#000"},sl);
    
    
    const t = mk("text",{x:1444,y:cy+14,"font-size":32},sl);
    
    
    t.textContent=s;
  });

  const pl = document.getElementById("pval-legend");
  const pY = v => 2868 - v*27.9;
  pTicks.forEach((p,i)=>{
    if(i>0&&i<4){
      [[1371,1381],[1417,1427.5]].forEach(seg=>{
        const l = mk("line",{x1:seg[0],x2:seg[1],y1:pY(p),y2:pY(p),stroke:"#fff","stroke-width":2},pl);
        
        
      });
    }
    const off = i===0 ? 9 : (i===4 ? 7 : 11);
    const t = mk("text",{x:i===0?1444:1437,y:pY(p)+off,"font-size":32},pl);
    
    
    t.textContent=pTickLabels[i];
  });
})();
</script>
</body>
</html>
